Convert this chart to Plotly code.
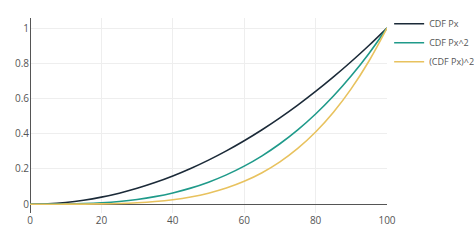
import plotly.graph_objects as go

x_vals = [0, 5, 10, 15, 20, 25, 30, 35, 40, 45, 50, 55, 60, 65, 70, 75, 80, 85, 90, 95, 100]
cdf_px = [0, 0.0025, 0.01, 0.0225, 0.04, 0.0625, 0.09, 0.1225, 0.16, 0.2025, 0.25,
          0.3025, 0.36, 0.4225, 0.49, 0.5625, 0.64, 0.7225, 0.81, 0.9025, 1]
cdf_px2 = [0, 0.0001, 0.001, 0.0034, 0.008, 0.0156, 0.027, 0.0429, 0.064, 0.0911, 0.125,
           0.1664, 0.216, 0.2746, 0.343, 0.4219, 0.512, 0.6141, 0.729, 0.8574, 1]
cdf_px_sq = [0, 0, 0.0001, 0.0005, 0.0016, 0.0039, 0.0081, 0.015, 0.0256, 0.041, 0.0625,
             0.0915, 0.1296, 0.1785, 0.2401, 0.3164, 0.4096, 0.522, 0.6561, 0.8145, 1]
names = ["CDF Px", "CDF Px^2", "(CDF Px)^2"]
colors = ["#1b2a38", "#1f9a8a", "#e8c25e"]

fig = go.Figure()
for name, ys, c in zip(names, [cdf_px, cdf_px2, cdf_px_sq], colors):
    fig.add_trace(go.Scatter(x=x_vals, y=ys, mode="lines", name=name,
                             line=dict(color=c, width=1.6, shape="spline")))

fig.update_layout(
    width=474, height=243,
    margin=dict(l=30, r=87, t=18, b=30, autoexpand=False),
    paper_bgcolor="white", plot_bgcolor="white",
    font=dict(family="Open Sans", size=10, color="#555"),
    legend=dict(x=1.006, y=1.045, xanchor="left", yanchor="top", font=dict(size=9),
                itemwidth=30, tracegroupgap=0),
    xaxis=dict(range=[0, 100], dtick=20, showgrid=True, gridcolor="#eee",
               zeroline=True, zerolinecolor="#555", zerolinewidth=1, ticks="", showline=False),
    yaxis=dict(range=[-0.05, 1.057], dtick=0.2, showgrid=True, gridcolor="#eee",
               zeroline=True, zerolinecolor="#555", zerolinewidth=1, ticks="", showline=False),
)
fig.write_html("out.html")
